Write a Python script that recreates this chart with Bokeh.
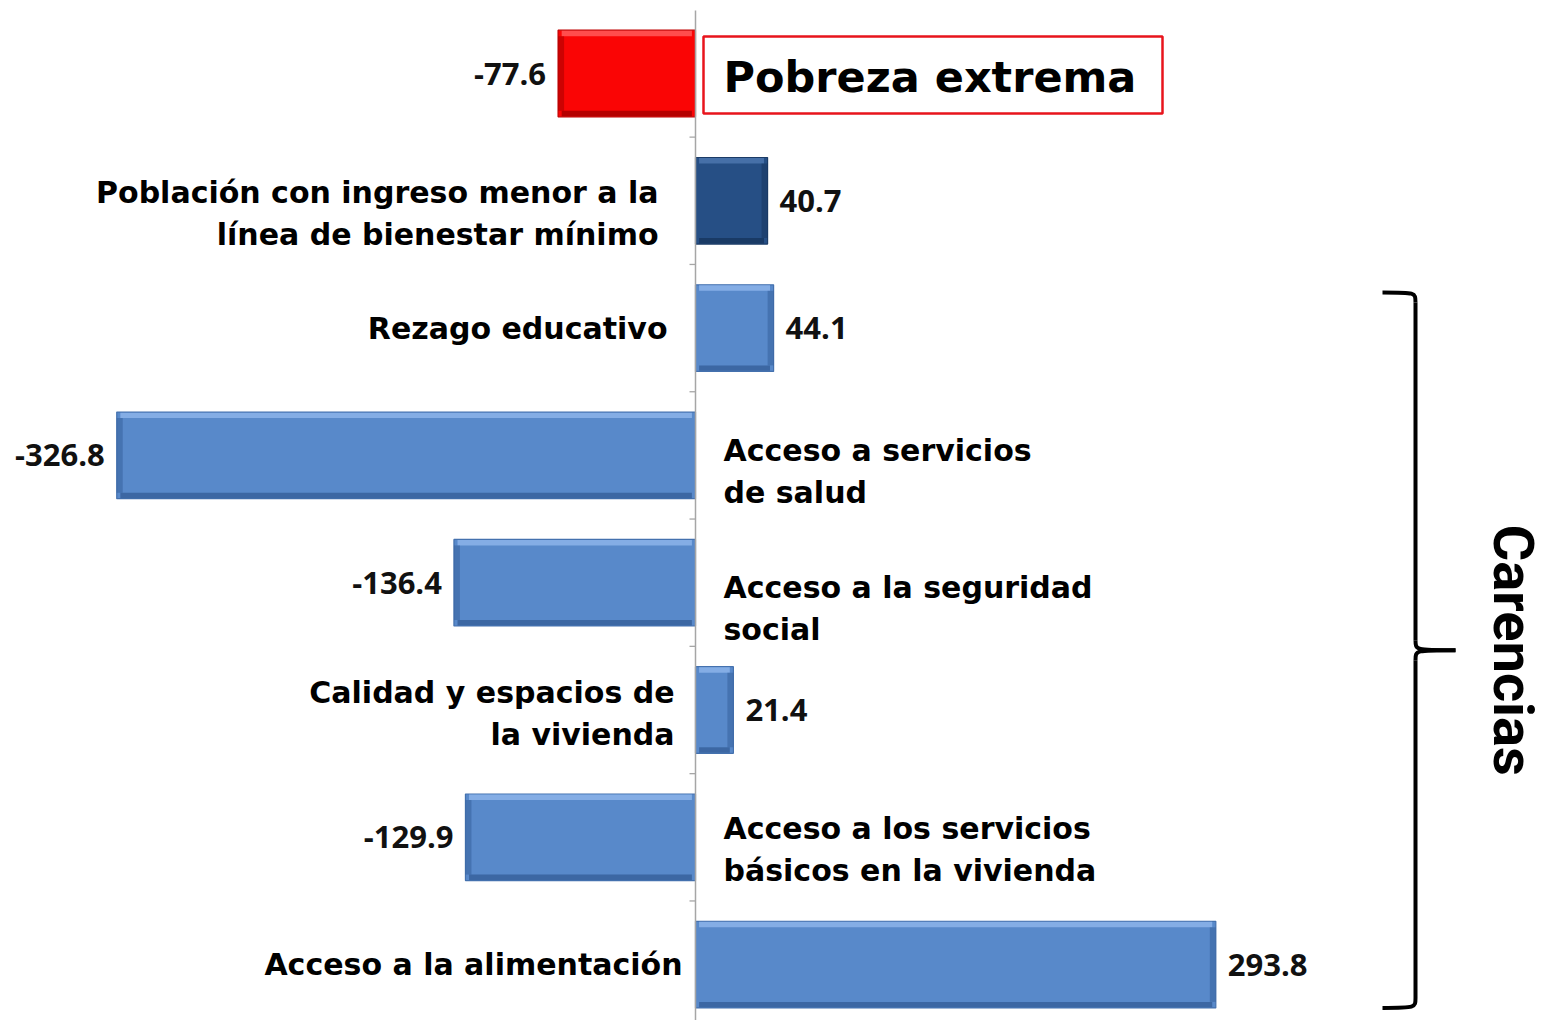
import numpy as np
from bokeh.plotting import figure
from bokeh.models import Range1d, ColumnDataSource
from bokeh.core.properties import value
from bokeh.embed import file_html
from bokeh.resources import INLINE

# ---------------- data ----------------
categories = [
    "Pobreza extrema",
    "Población con ingreso menor a la\nlínea de bienestar mínimo",
    "Rezago educativo",
    "Acceso a servicios\nde salud",
    "Acceso a  la seguridad\nsocial",
    "Calidad y espacios de\nla vivienda",
    "Acceso a los servicios\nbásicos en la vivienda",
    "Acceso a la alimentación",
]
values = [-77.6, 40.7, 44.1, -326.8, -136.4, 21.4, -129.9, 293.8]
value_labels = ["-77.6", "40.7", "44.1", "-326.8", "-136.4", "21.4", "-129.9", "293.8"]
group_label = "Carencias"
group_rows = [2, 7]  # first and last row under the brace

# ---------------- styling / layout ----------------
FONT = "DejaVu Sans"
VFONT = "Open Sans"
main_cols = ["#FA0505", "#264F85"] + ["#5889CA"] * 6
hi_cols = ["#FF5A5A", "#4C76AE"] + ["#8CB4EA"] * 6
sh_cols = ["#A80000", "#17365F"] + ["#37619C"] * 6
edge_cols = ["#C00000", "#1B3B66"] + ["#4471AE"] * 6

PX_X = 1.771   # px per data unit (x)
PX_Y = 127.3   # px per row (y)
W, H = 1545, 1020
x0_px, y0_px = 695, 73
BAR_H = 0.68

p = figure(width=W, height=H, output_backend="svg", toolbar_location=None,
           x_range=Range1d(-x0_px / PX_X, (W - x0_px) / PX_X),
           y_range=Range1d((H - y0_px) / PX_Y, -y0_px / PX_Y),
           x_axis_type=None, y_axis_type=None, min_border=0)
p.outline_line_color = None
p.xgrid.visible = False
p.ygrid.visible = False
p.background_fill_color = "white"

rows = np.arange(len(categories))
vals = np.array(values)
left = np.minimum(0, vals)
right = np.maximum(0, vals)
top = rows - BAR_H / 2
bot = rows + BAR_H / 2

# bars with a bevel look
p.quad(left=left, right=right, top=top, bottom=bot,
       fill_color=main_cols, line_color=edge_cols, line_width=1.2)
bx = 6 / PX_X
by = 6 / PX_Y
p.quad(left=left + bx * 0.6, right=right - bx * 0.6, top=top + 0.004, bottom=top + by,
       fill_color=hi_cols, line_color=None, fill_alpha=0.85)
p.quad(left=left + bx * 0.6, right=right - bx * 0.6, top=bot - by, bottom=bot - 0.004,
       fill_color=sh_cols, line_color=None, fill_alpha=0.85)
end_l = np.where(vals < 0, vals, vals - bx)
end_r = np.where(vals < 0, vals + bx, vals)
p.quad(left=end_l, right=end_r, top=top + by, bottom=bot - by,
       fill_color=sh_cols, line_color=None, fill_alpha=0.55)

# axis line and ticks
p.segment(x0=[0], x1=[0], y0=[-0.495], y1=[7.44], line_color="#A6A6A6", line_width=1.5)
tick_y = rows[:-1] + 0.5
p.segment(x0=np.full(len(tick_y), -6 / PX_X), x1=np.zeros(len(tick_y)),
          y0=tick_y, y1=tick_y, line_color="#A6A6A6", line_width=1.3)

# value labels
off = 12 / PX_X
neg = vals < 0
vsrc_n = ColumnDataSource(dict(x=vals[neg] - off, y=rows[neg], t=[value_labels[i] for i in rows[neg]]))
vsrc_p = ColumnDataSource(dict(x=vals[~neg] + off, y=rows[~neg], t=[value_labels[i] for i in rows[~neg]]))
for src, al in ((vsrc_n, "right"), (vsrc_p, "left")):
    p.text(x="x", y="y", text="t", source=src, text_align=al, text_baseline="middle",
           text_font=value(VFONT), text_font_style="bold", text_font_size="31px",
           text_color="#111111")

# category labels
left_rows = [1, 2, 5, 7]
left_x_px = {1: 658, 2: 667, 5: 674, 7: 682}
right_rows = [3, 4, 6]
y_shift_px = {1: 13, 2: 0, 3: 16, 4: 26, 5: 3, 6: 12, 7: 0}
lsrc = ColumnDataSource(dict(
    x=[(left_x_px[r] - x0_px) / PX_X for r in left_rows],
    y=[r + y_shift_px[r] / PX_Y for r in left_rows],
    t=[categories[r] for r in left_rows]))
rsrc = ColumnDataSource(dict(
    x=[(723 - x0_px) / PX_X for r in right_rows],
    y=[r + y_shift_px[r] / PX_Y for r in right_rows],
    t=[categories[r] for r in right_rows]))
for src, al in ((lsrc, "right"), (rsrc, "left")):
    p.text(x="x", y="y", text="t", source=src, text_align=al, text_baseline="middle",
           text_font=value(FONT), text_font_style="bold", text_font_size="30px",
           text_line_height=1.2, text_color="black")

# Pobreza extrema boxed label
p.quad(left=[(703 - x0_px) / PX_X], right=[(1162 - x0_px) / PX_X],
       top=[rows[0] - 37 / PX_Y], bottom=[rows[0] + 40 / PX_Y],
       fill_color=None, line_color="#E8141C", line_width=2.5)
p.text(x=[(723 - x0_px) / PX_X], y=[rows[0] + 3 / PX_Y], text=[categories[0]],
       text_align="left", text_baseline="middle", text_font=value(FONT),
       text_font_style="bold", text_font_size="43px", text_color="black")

# brace for carencias
bt = group_rows[0] - 0.28
bb = group_rows[1] + 0.34
bm = (bt + bb) / 2
xl = (1382 - x0_px) / PX_X
xv = (1415 - x0_px) / PX_X
xt = (1455 - x0_px) / PX_X
cy = 10 / PX_Y
p.bezier(x0=[xl, xv, xl, xv], y0=[bt, bm - cy, bb, bm + cy],
         x1=[xv, xt, xv, xt], y1=[bt + cy, bm, bb - cy, bm],
         cx0=[xv, xv, xv, xv], cy0=[bt, bm, bb, bm],
         cx1=[xv, xv, xv, xv], cy1=[bt, bm, bb, bm],
         line_color="black", line_width=4)
p.segment(x0=[xv, xv], x1=[xv, xv], y0=[bt + cy, bm + cy], y1=[bm - cy, bb - cy],
          line_color="black", line_width=4)
p.text(x=[(1512 - x0_px) / PX_X], y=[bm], text=[group_label], angle=-np.pi / 2,
       text_align="center", text_baseline="middle",
       text_font=value("Roboto"), text_font_style="bold",
       text_font_size="56px", text_color="black")

open("out.html", "w").write(file_html(p, INLINE))
